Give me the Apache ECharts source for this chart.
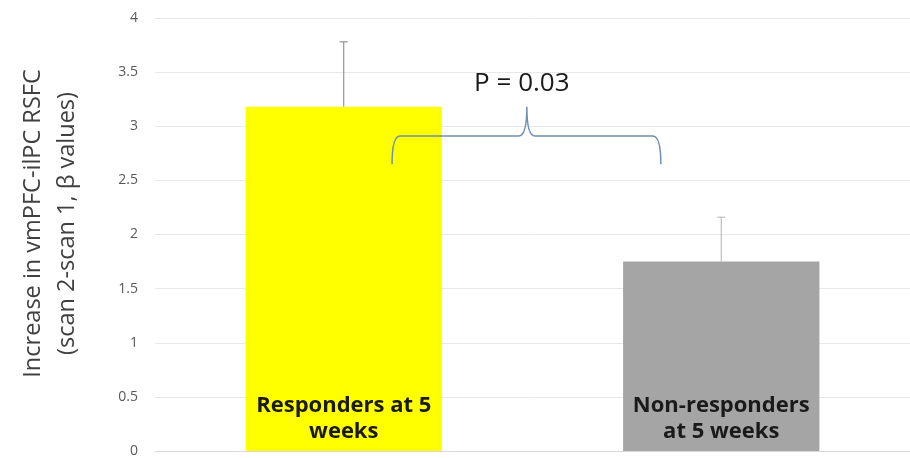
<!DOCTYPE html>
<html><head><meta charset="utf-8">
<script src="https://cdn.jsdelivr.net/npm/echarts@6/dist/echarts.min.js"></script>
<style>html,body{margin:0;padding:0;background:#fff}#c{width:910px;height:458px}</style>
</head><body><div id="c"></div>
<script>
var categories = ['Responders at 5\nweeks', 'Non-responders\nat 5 weeks'];
var means = [3.18, 1.75];
var errorTops = [3.78, 2.16];
var barColors = ['#ffff00', '#a5a5a5'];
var errColors = ['#808080', '#b3b3b3'];
var yTicks = [0, 0.5, 1, 1.5, 2, 2.5, 3, 3.5, 4];
var bracketX = [0.128, 0.485, 0.84]; // in category units from category 0
var bracketY = [2.65, 2.91, 3.18];     // ends, horizontal, peak
var pLabel = 'P = 0.03';
var pLabelY = 3.39;

var chart = echarts.init(document.getElementById('c'));
var font = '"Open Sans", Lato, sans-serif';
chart.setOption({
  animation: false,
  grid: {left: 155, right: -3, top: 18, bottom: 6, containLabel: false},
  xAxis: {
    type: 'category', data: categories,
    axisLine: {show: true, lineStyle: {color: '#d9d9d9'}},
    axisTick: {show: false}, axisLabel: {show: false}
  },
  yAxis: {
    type: 'value', min: 0, max: 4, interval: 0.5,
    name: 'Increase in vmPFC-ilPC RSFC\n(scan 2-scan 1, \u03b2 values)',
    nameLocation: 'middle', nameGap: 71,
    nameTextStyle: {fontSize: 23.5, lineHeight: 34, color: '#404040', fontFamily: font, padding: [0, 0, 0, 22]},
    axisLabel: {fontSize: 14, color: '#595959', margin: 17, fontFamily: font,
      formatter: function (v) { return yTicks.indexOf(v) >= 0 ? String(v) : ''; }},
    splitLine: {lineStyle: {color: '#e8e8e8'}},
    axisLine: {show: false}, axisTick: {show: false}
  },
  series: [
    {
      type: 'bar', barWidth: '52%',
      data: means.map(function (v, i) { return {value: v, itemStyle: {color: barColors[i]}}; }),
      label: {show: true, position: 'insideBottom', distance: 6,
        formatter: function (p) { return categories[p.dataIndex]; },
        fontSize: 22, fontWeight: 'bold', color: '#1a1a1a', lineHeight: 26, fontFamily: font},
      z: 2
    },
    {
      type: 'custom', z: 3,
      data: means.map(function (v, i) { return [i, v, errorTops[i]]; }),
      renderItem: function (params, api) {
        var i = api.value(0);
        var lo = api.coord([i, api.value(1)]);
        var hi = api.coord([i, api.value(2)]);
        var c = errColors[params.dataIndex];
        return {type: 'group', children: [
          {type: 'line', shape: {x1: lo[0], y1: lo[1], x2: hi[0], y2: hi[1]}, style: {stroke: c, lineWidth: 1}},
          {type: 'line', shape: {x1: hi[0] - 4, y1: hi[1], x2: hi[0] + 4, y2: hi[1]}, style: {stroke: c, lineWidth: 1}}
        ]};
      }
    },
    {
      type: 'custom', z: 4,
      data: [[0, bracketY[0]]],
      renderItem: function (params, api) {
        var base = api.coord([0, bracketY[0]]);
        var bw = api.size([1, 0])[0];
        var x0 = base[0] + bracketX[0] * bw;
        var xm = base[0] + bracketX[1] * bw;
        var x1 = base[0] + bracketX[2] * bw;
        var yb = base[1];
        var yh = api.coord([0, bracketY[1]])[1];
        var yp = api.coord([0, bracketY[2]])[1];
        var ty = api.coord([0, pLabelY])[1];
        var r = 8;
        var d = 'M' + x0 + ',' + yb + ' Q' + x0 + ',' + yh + ' ' + (x0 + r) + ',' + yh +
          ' L' + (xm - r) + ',' + yh + ' Q' + xm + ',' + yh + ' ' + xm + ',' + yp +
          ' Q' + xm + ',' + yh + ' ' + (xm + r) + ',' + yh +
          ' L' + (x1 - r) + ',' + yh + ' Q' + x1 + ',' + yh + ' ' + x1 + ',' + yb;
        return {type: 'group', children: [
          {type: 'path', shape: {pathData: d}, style: {stroke: '#6f8fb3', lineWidth: 1.5, fill: null}},
          {type: 'text', x: xm - 5, y: ty, style: {text: pLabel, fontSize: 26, fill: '#1a1a1a',
            fontFamily: font, align: 'center', verticalAlign: 'middle'}}
        ]};
      }
    }
  ]
});
</script></body></html>
